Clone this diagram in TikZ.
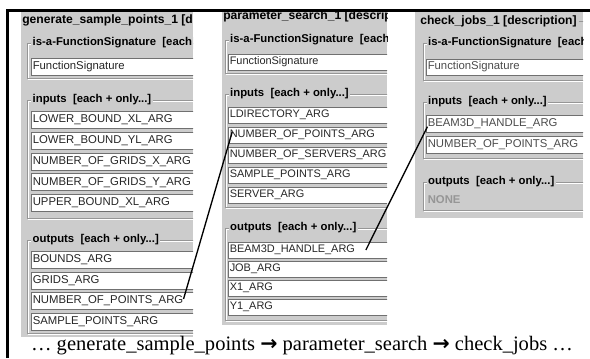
\documentclass[tikz,border=0pt]{standalone}
\usepackage{fontspec}
\setmainfont{Liberation Serif}
\newfontfamily\guifont{Liberation Sans}
\newfontfamily\arrowfont{DejaVu Sans}
\definecolor{panelbg}{RGB}{204,204,204}
\definecolor{etch}{RGB}{150,150,150}
\definecolor{fieldedge}{RGB}{112,112,112}
\definecolor{dimtext}{RGB}{150,150,150}

\begin{document}
\begin{tikzpicture}[x=0.75pt,y=-0.75pt]
	\tikzstyle{paneltitle} = [font=\guifont\fontsize{9.1}{11}\selectfont\bfseries,anchor=west,inner sep=0pt]
	\tikzstyle{grouplabel} = [font=\guifont\fontsize{8.5}{10}\selectfont\bfseries,anchor=west,fill=panelbg,inner xsep=1.1pt,inner ysep=0.5pt]
	\tikzstyle{argname} = [font=\guifont\fontsize{8.5}{10}\selectfont,anchor=west,inner sep=0pt,text=black!85]
	\tikzstyle{smallarg} = [argname,font=\guifont\fontsize{8.2}{10}\selectfont]
	\tikzstyle{groupbox} = [draw=etch,line width=0.75pt,preaction={draw=white,line width=0.75pt,transform canvas={shift={(0.75pt,-0.75pt)}}}]
	\tikzstyle{fieldbox} = [fill=white,draw=fieldedge,line width=0.75pt]
	\tikzstyle{link} = [line width=1pt]

	\useasboundingbox (0,0) rectangle (590,358);
	\draw[line width=1.8pt] (7.5,358) -- (7.5,10.5) -- (590,10.5);

	% generate_sample_points
	\begin{scope}
		\clip (21,12) rectangle (193,337);
		\fill[panelbg] (21,12) rectangle (193,337);
		\node[paneltitle] (gsTitle) at (22,20) {generate\_sample\_points\_1 [d};
		\draw[groupbox] (27,43) rectangle (210,78);
		\node[grouplabel] (gsIsa) at (31,43) {is-a-FunctionSignature\ \ [each};
		\draw[fieldbox] (31,58) rectangle (210,75);
		\node[argname] (gsSig) at (32.5,66.5) {FunctionSignature};
		\draw[groupbox] (27,100) rectangle (210,218);
		\node[grouplabel] (gsIn) at (31,100) {inputs\ \ [each + only...]};
		\foreach \y in {120,140.75,161.5,182.25,203}
			\draw[fieldbox] (31,\y-8.5) rectangle (210,\y+8.5);
		\node[argname] (gsIn1) at (32.5,120) {LOWER\_BOUND\_XL\_ARG};
		\node[argname] (gsIn2) at (32.5,140.75) {LOWER\_BOUND\_YL\_ARG};
		\node[argname] (gsIn3) at (32.5,161.5) {NUMBER\_OF\_GRIDS\_X\_ARG};
		\node[argname] (gsIn4) at (32.5,182.25) {NUMBER\_OF\_GRIDS\_Y\_ARG};
		\node[argname] (gsIn5) at (32.5,203) {UPPER\_BOUND\_XL\_ARG};
		\draw[groupbox] (27,240) rectangle (210,333);
		\node[grouplabel] (gsOut) at (31,240) {outputs\ \ [each + only...]};
		\foreach \y in {260,280.5,301,321.5}
			\draw[fieldbox] (31,\y-8.5) rectangle (210,\y+8.5);
		\node[argname] (gsOut1) at (32.5,260) {BOUNDS\_ARG};
		\node[argname] (gsOut2) at (32.5,280.5) {GRIDS\_ARG};
		\node[argname] (gsOut3) at (32.5,301) {NUMBER\_OF\_POINTS\_ARG};
		\node[argname] (gsOut4) at (32.5,321.5) {SAMPLE\_POINTS\_ARG};
	\end{scope}

	% parameter_search
	\begin{scope}
		\clip (222,12) rectangle (387,325);
		\fill[panelbg] (222,12) rectangle (387,325);
		\node[paneltitle] (psTitle) at (223,16) {parameter\_search\_1 [descript};
		\draw[groupbox] (225,40) rectangle (400,73);
		\node[grouplabel] (psIsa) at (228.5,40) {is-a-FunctionSignature\ \ [each};
		\draw[fieldbox] (228,54) rectangle (400,70);
		\node[smallarg] (psSig) at (229.5,62) {FunctionSignature};
		\draw[groupbox] (225,94) rectangle (400,207);
		\node[grouplabel] (psIn) at (228.5,94) {inputs\ \ [each + only...]};
		\foreach \y in {115,135,155,175,195}
			\draw[fieldbox] (228,\y-8) rectangle (400,\y+8);
		\node[smallarg] (psIn1) at (229.5,115) {LDIRECTORY\_ARG};
		\node[smallarg] (psIn2) at (229.5,135) {NUMBER\_OF\_POINTS\_ARG};
		\node[smallarg] (psIn3) at (229.5,155) {NUMBER\_OF\_SERVERS\_ARG};
		\node[smallarg] (psIn4) at (229.5,175) {SAMPLE\_POINTS\_ARG};
		\node[smallarg] (psIn5) at (229.5,195) {SERVER\_ARG};
		\draw[groupbox] (225,228) rectangle (400,320);
		\node[grouplabel] (psOut) at (228.5,228) {outputs\ \ [each + only...]};
		\foreach \y in {250,269,288,307}
			\draw[fieldbox] (228,\y-8) rectangle (400,\y+8);
		\node[smallarg] (psOut1) at (229.5,250) {BEAM3D\_HANDLE\_ARG};
		\node[smallarg] (psOut2) at (229.5,269) {JOB\_ARG};
		\node[smallarg] (psOut3) at (229.5,288) {X1\_ARG};
		\node[smallarg] (psOut4) at (229.5,307) {Y1\_ARG};
	\end{scope}

	% check_jobs
	\begin{scope}
		\clip (415,12) rectangle (583,218);
		\fill[panelbg] (415,12) rectangle (583,218);
		\node[paneltitle] (cjTitle) at (420,21) {check\_jobs\_1 [description]};
		\draw[etch,line width=0.75pt] ([xshift=1.5pt]cjTitle.east) -- (600,21);
		\draw[groupbox] (423,43) rectangle (600,80);
		\node[grouplabel] (cjIsa) at (426.5,43) {is-a-FunctionSignature\ \ [each};
		\draw[fieldbox] (426,59) rectangle (600,75);
		\node[argname,text=black!70] (cjSig) at (427.5,67) {FunctionSignature};
		\draw[groupbox] (423,102) rectangle (600,158);
		\node[grouplabel] (cjIn) at (426.5,102) {inputs\ \ [each + only...]};
		\foreach \y in {124,145}
			\draw[fieldbox] (426,\y-8.5) rectangle (600,\y+8.5);
		\node[argname,text=black!70] (cjIn1) at (427.5,124) {BEAM3D\_HANDLE\_ARG};
		\node[argname,text=black!70] (cjIn2) at (427.5,145) {NUMBER\_OF\_POINTS\_ARG};
		\draw[groupbox] (423,182) rectangle (600,210);
		\node[grouplabel] (cjOut) at (426.5,182) {outputs\ \ [each + only...]};
		\node[argname,font=\guifont\fontsize{8.5}{10}\selectfont\bfseries,text=dimtext] (cjNone) at (427.5,200) {NONE};
	\end{scope}

	\draw[link] ([yshift=1.5pt]gsOut3.east) -- ([xshift=2pt,yshift=2.2pt]psIn2.west);
	\draw[link] ([xshift=8pt]psOut1.east) -- ([yshift=-2pt]cjIn1.west);

	\node[font=\fontsize{15.4}{18}\selectfont,anchor=base,inner sep=0pt] (chain) at (302,350)
		{… generate\_sample\_points {\arrowfont\bfseries →} parameter\_search {\arrowfont\bfseries →} check\_jobs …};
\end{tikzpicture}
\end{document}
